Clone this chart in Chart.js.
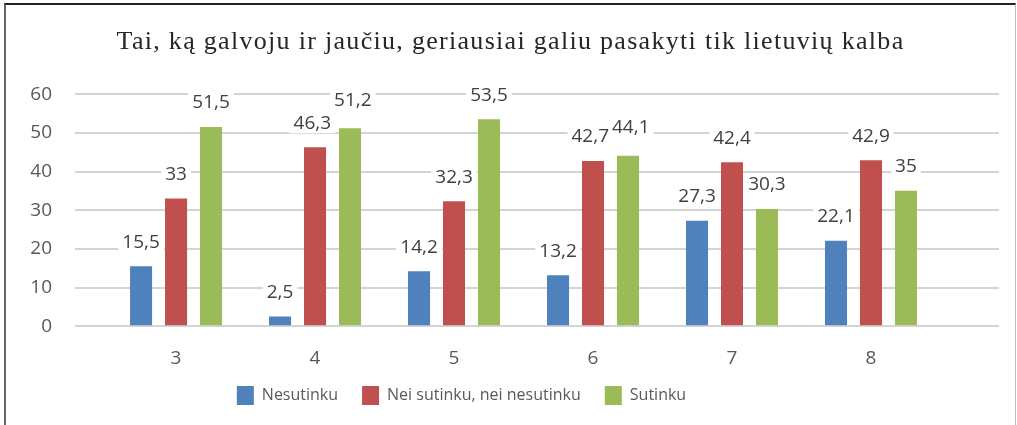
<!DOCTYPE html>
<html>
<head>
<meta charset="utf-8">
<script src="https://cdn.jsdelivr.net/npm/chart.js@4.4.0/dist/chart.umd.min.js"></script>
<style>
  body { margin: 0; background: #fff; }
  #wrap { position: relative; width: 1017px; height: 425px; }
  #frame {
    position: absolute; left: 4px; top: 3px; width: 1009px; height: 430px;
    border-top: 2px solid #222; border-left: 2px solid #666; border-right: 1px solid #bbb;
    pointer-events: none;
  }
</style>
</head>
<body>
<div id="wrap">
  <canvas id="chart" width="1017" height="425"></canvas>
  <div id="frame"></div>
</div>
<script>
// Data
//==============================
var classes = [3, 4, 5, 6, 7, 8];
var nesutinku = [15.5, 2.5, 14.2, 13.2, 27.3, 22.1];
var neiSutinku = [33, 46.3, 32.3, 42.7, 42.4, 42.9];
var sutinku = [51.5, 51.2, 53.5, 44.1, 30.3, 35];
var yTicks = [0, 10, 20, 30, 40, 50, 60];

function points(values) {
  return classes.map(function (c, i) { return { x: c, y: values[i] }; });
}

var labelFont = "19px 'Open Sans'";

// shift a layout box (and optionally add letter spacing) when it draws
function nudge(block, chart, dx, dy, spacing) {
  if (!block) return;
  var draw = block.draw;
  block.draw = function () {
    chart.ctx.save();
    chart.ctx.translate(dx, dy);
    if (spacing) chart.ctx.letterSpacing = spacing;
    draw.apply(block, arguments);
    chart.ctx.restore();
  };
}

// Work out where each value label goes, pushing apart labels that collide
function labelBoxes(chart, ctx) {
  var boxes = [];
  classes.forEach(function (c, i) {
    var row = [];
    chart.data.datasets.forEach(function (ds, di) {
      var bar = chart.getDatasetMeta(di).data[i];
      var text = String(ds.data[i].y).replace(".", ",");
      row.push({ text: text, x: bar.x, y: bar.y - 24, w: ctx.measureText(text).width });
    });
    for (var k = 0; k < row.length - 1; k++) {
      var a = row[k], b = row[k + 1];
      var overlap = (a.x + a.w / 2 + 3) - (b.x - b.w / 2);
      if (Math.abs(a.y - b.y) < 20 && overlap > 0) {
        a.x -= overlap / 2;
        b.x += overlap / 2;
        b.y -= 4;
      }
    }
    boxes = boxes.concat(row);
  });
  return boxes;
}

var valueLabels = {
  id: "valueLabels",
  afterInit: function (chart) {
    nudge(chart.titleBlock, chart, 11, 0, "1.3px");
    // legend sits closer to the axis labels than its padding allows
    nudge(chart.legend, chart, -38, -21);
  },
  beforeDatasetsDraw: function (chart) {
    var ctx = chart.ctx;
    ctx.save();
    ctx.font = labelFont;
    ctx.fillStyle = "#fff";
    labelBoxes(chart, ctx).forEach(function (l) {
      ctx.fillRect(l.x - l.w / 2 - 4, l.y - 12, l.w + 8, 22);
    });
    ctx.restore();
  },
  afterDatasetsDraw: function (chart) {
    var ctx = chart.ctx;
    ctx.save();
    ctx.font = labelFont;
    ctx.textAlign = "center";
    ctx.textBaseline = "middle";
    ctx.fillStyle = "#404040";
    labelBoxes(chart, ctx).forEach(function (l) {
      ctx.fillText(l.text, l.x, l.y);
    });
    ctx.restore();
  }
};

var ctx = document.getElementById("chart");
var chart = new Chart(ctx, {
  type: "bar",
  data: {
    datasets: [
      { label: "Nesutinku", data: points(nesutinku), backgroundColor: "#4f81bd" },
      { label: "Nei sutinku, nei nesutinku", data: points(neiSutinku), backgroundColor: "#c0504d" },
      { label: "Sutinku", data: points(sutinku), backgroundColor: "#9bbb59" }
    ]
  },
  options: {
    responsive: false,
    animation: false,
    categoryPercentage: 0.755,
    barPercentage: 0.63,
    layout: { padding: { left: 0, right: 18, top: 0, bottom: -11 } },
    plugins: {
      title: {
        display: true,
        text: "Tai, ką galvoju ir jaučiu, geriausiai galiu pasakyti tik lietuvių kalba",
        color: "#262626",
        font: { family: "'Liberation Serif'", size: 26, weight: "normal" },
        padding: { top: 27, bottom: 36 }
      },
      legend: {
        position: "bottom",
        labels: {
          color: "#595959",
          font: { family: "'Open Sans'", size: 16 },
          boxWidth: 17,
          boxHeight: 19,
          padding: 24
        }
      },
      tooltip: { enabled: false }
    },
    scales: {
      x: {
        type: "linear",
        offset: false,
        min: 2.273,
        max: 8.921,
        grid: { display: false },
        border: { display: false },
        afterBuildTicks: function (scale) {
          scale.ticks = classes.map(function (c) { return { value: c }; });
        },
        ticks: {
          color: "#595959",
          font: { family: "'Open Sans'", size: 19 },
          padding: 13
        }
      },
      y: {
        min: 0,
        max: 60,
        afterBuildTicks: function (scale) {
          scale.ticks = yTicks.map(function (v) { return { value: v }; });
        },
        afterFit: function (scale) { scale.width = 75; },
        grid: { color: "#d4d4d4", lineWidth: 2, drawTicks: false },
        border: { display: false },
        ticks: {
          color: "#595959",
          font: { family: "'Open Sans'", size: 19 },
          padding: 23
        }
      }
    }
  },
  plugins: [valueLabels]
});
</script>
</body>
</html>
